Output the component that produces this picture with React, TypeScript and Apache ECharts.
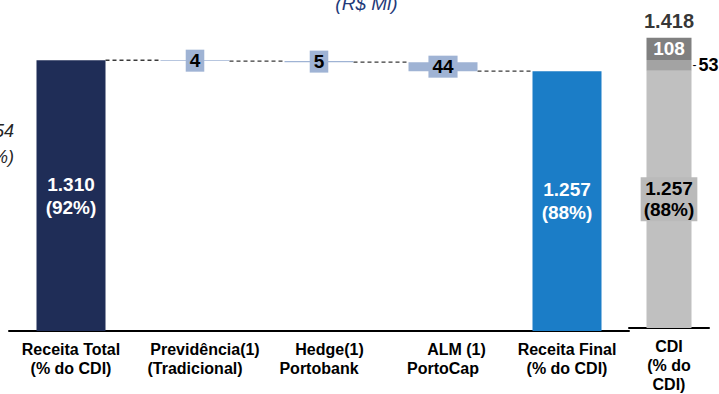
import React, { useEffect, useRef } from "react";
import * as echarts from "echarts";

// ---- data ----
const categories = [
  "Receita Total\n(% do CDI)",
  "Previdência(1)\n(Tradicional)",
  "Hedge(1)\nPortobank",
  "ALM (1)\nPortoCap",
  "Receita Final\n(% do CDI)",
];
const startValue = 1310;
const deltas = [-4, -5, -44]; // Previdência, Hedge, ALM
const finalValue = 1257;
const startShare = "92%";
const finalShare = "88%";

const cdiCategories = ["CDI\n(% do\nCDI)"];
const cdiBase = [1257];
const cdiMid = [53];
const cdiTop = [108];
const cdiTotal = [1418];
const cdiShare = "88%";

const title = "(R$ Mi)";

const fmt = (v: number) =>
  String(Math.abs(v)).replace(/\B(?=(\d{3})+(?!\d))/g, ".");

const FONT = "'Liberation Sans', Arial, sans-serif";

export default function App() {
  const ref = useRef<HTMLDivElement>(null);

  useEffect(() => {
    if (!ref.current) return;
    const chart = echarts.init(ref.current, undefined, { renderer: "svg" });

    // waterfall construction
    const bases: number[] = [0];
    const vals: number[] = [startValue];
    const levels: number[] = [startValue];
    let level = startValue;
    deltas.forEach((d) => {
      const next = level + d;
      bases.push(Math.min(level, next));
      vals.push(Math.abs(d));
      level = next;
      levels.push(level);
    });
    bases.push(0);
    vals.push(finalValue);

    const colors = ["#1f2d57", "#9fb3d4", "#9fb3d4", "#9fb3d4", "#1b7dc7"];
    const half = 34.5;

    const bigLabel = {
      show: true,
      position: "inside",
      color: "#ffffff",
      fontFamily: FONT,
      fontWeight: "bold",
      fontSize: 19,
      lineHeight: 23,
    };
    const deltaLabel = {
      show: true,
      position: "inside",
      color: "#000000",
      fontFamily: FONT,
      fontWeight: "bold",
      fontSize: 19,
      lineHeight: 21,
      backgroundColor: "#9fb3d4",
      padding: [1, 4, 0, 4],
    };

    const mainData = vals.map((v, i) => {
      const isEnd = i === 0 || i === vals.length - 1;
      const share = i === 0 ? startShare : finalShare;
      return {
        value: v,
        itemStyle: { color: colors[i] },
        label: isEnd
          ? { ...bigLabel, formatter: `${fmt(v)}\n(${share})` }
          : { ...deltaLabel, formatter: `${fmt(v)}` },
      };
    });

    const labelRich = {
      s10: { padding: [0, 0, 0, 20], fontFamily: FONT, fontWeight: "bold", fontSize: 16, color: "#000", lineHeight: 19 },
      s21: { padding: [0, 0, 0, 21], fontFamily: FONT, fontWeight: "bold", fontSize: 16, color: "#000", lineHeight: 19 },
      s27: { padding: [0, 0, 0, 27], fontFamily: FONT, fontWeight: "bold", fontSize: 16, color: "#000", lineHeight: 19 },
    };
    const shiftKey = ["", "s10", "s21", "s27", ""];

    const axisLabelBase = {
      fontFamily: FONT,
      fontWeight: "bold",
      fontSize: 16,
      color: "#000",
      lineHeight: 19,
      margin: 9,
      interval: 0,
    };

    chart.setOption({
      animation: false,
      graphic: [
        {
          type: "text",
          x: 366.5,
          y: -6,
          style: {
            text: title,
            fill: "#1f3a7a",
            font: `italic 19px ${FONT}`,
            textAlign: "center",
            textVerticalAlign: "top",
          },
        },
        {
          type: "text",
          x: 14,
          y: 131,
          style: {
            text: "54",
            fill: "#262626",
            font: `italic 18px ${FONT}`,
            textAlign: "right",
            textVerticalAlign: "middle",
          },
        },
        {
          type: "text",
          x: 14,
          y: 157,
          style: {
            text: "%)",
            fill: "#262626",
            font: `italic 18px ${FONT}`,
            textAlign: "right",
            textVerticalAlign: "middle",
          },
        },
      ],
      grid: [
        { left: 9, right: 90, top: 21, bottom: 63 },
        { left: 629, right: 10, top: 21, bottom: 63 },
      ],
      xAxis: [
        {
          type: "category",
          gridIndex: 0,
          data: categories,
          axisLine: { show: true, lineStyle: { color: "#000", width: 2 } },
          axisTick: { show: false },
          axisLabel: {
            ...axisLabelBase,
            rich: labelRich,
            formatter: (v: string, i: number) => {
              const k = shiftKey[i];
              if (!k) return v;
              const [a, b] = v.split("\n");
              return `{${k}|${a}}\n${b}`;
            },
          },
        },
        {
          type: "category",
          gridIndex: 1,
          data: cdiCategories,
          axisLine: { show: true, lineStyle: { color: "#000", width: 2 } },
          axisTick: { show: false },
          axisLabel: { ...axisLabelBase },
        },
      ],
      yAxis: [
        { type: "value", gridIndex: 0, min: 0, max: 1500, show: false },
        { type: "value", gridIndex: 1, min: 0, max: 1500, show: false },
      ],
      series: [
        {
          type: "custom",
          xAxisIndex: 0,
          yAxisIndex: 0,
          z: 1,
          data: levels.map((l, i) => [i, l]),
          renderItem: (params: any, api: any) => {
            const x = api.value(0);
            const y = api.value(1);
            const p1 = api.coord([x, y]);
            const p2 = api.coord([x + 1, y]);
            return {
              type: "line",
              shape: { x1: p1[0] + half, y1: p1[1], x2: p2[0] - half, y2: p1[1] },
              style: { stroke: "#3a3a3a", lineWidth: 1.3, lineDash: [4, 3] },
            };
          },
        },
        {
          type: "bar",
          xAxisIndex: 0,
          yAxisIndex: 0,
          stack: "w",
          barWidth: 69,
          itemStyle: { color: "transparent" },
          data: bases,
          silent: true,
        },
        {
          type: "bar",
          xAxisIndex: 0,
          yAxisIndex: 0,
          stack: "w",
          barWidth: 69,
          z: 3,
          data: mainData,
        },
        {
          type: "bar",
          xAxisIndex: 1,
          yAxisIndex: 1,
          stack: "cdi",
          barWidth: 45,
          itemStyle: { color: "#c0c0c0" },
          label: {
            show: true,
            position: "inside",
            color: "#000",
            fontFamily: FONT,
            fontWeight: "bold",
            fontSize: 19,
            lineHeight: 21,
            backgroundColor: "#bababa",
            padding: [1, 3, 1, 3],
            formatter: (p: any) => `${fmt(p.value)}\n(${cdiShare})`,
          },
          data: cdiBase,
        },
        {
          type: "bar",
          xAxisIndex: 1,
          yAxisIndex: 1,
          stack: "cdi",
          barWidth: 45,
          itemStyle: { color: "#a3a3a3" },
          label: {
            show: true,
            position: "right",
            distance: 1,
            formatter: (p: any) => `{d|-}{v|${fmt(p.value)}}`,
            rich: {
              d: { fontFamily: FONT, fontSize: 12, color: "#000", padding: [0, 2, 0, 0] },
              v: { fontFamily: FONT, fontSize: 18, fontWeight: "bold", color: "#000" },
            },
          },
          data: cdiMid,
        },
        {
          type: "bar",
          xAxisIndex: 1,
          yAxisIndex: 1,
          stack: "cdi",
          barWidth: 45,
          itemStyle: { color: "#808080" },
          label: {
            show: true,
            position: "inside",
            color: "#fff",
            fontFamily: FONT,
            fontWeight: "bold",
            fontSize: 19,
            formatter: (p: any) => fmt(p.value),
          },
          data: cdiTop,
        },
        {
          type: "scatter",
          xAxisIndex: 1,
          yAxisIndex: 1,
          symbolSize: 0,
          label: {
            show: true,
            position: "top",
            distance: 7,
            color: "#000",
            fontFamily: FONT,
            fontWeight: "bold",
            fontSize: 20,
            formatter: (p: any) => fmt(p.value[1]),
          },
          data: cdiTotal.map((v, i) => [i, v]),
        },
      ],
    });

    return () => chart.dispose();
  }, []);

  return <div ref={ref} style={{ width: 719, height: 394, position: "absolute", left: 0, top: 0 }} />;
}
